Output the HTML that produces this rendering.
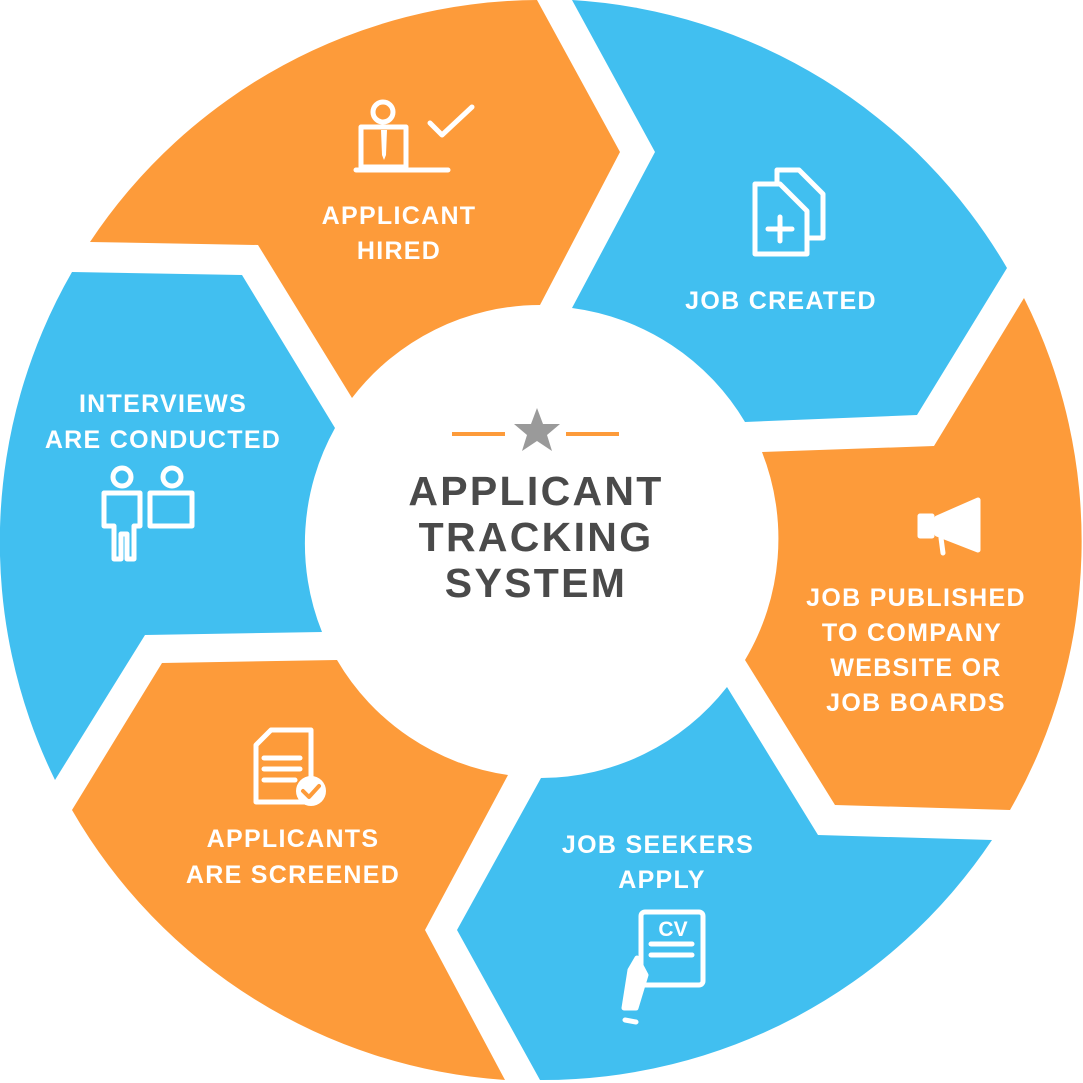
<!DOCTYPE html>
<html><head><meta charset="utf-8"><style>
html,body{margin:0;padding:0;background:#fff}
svg{display:block}
text{font-family:"Liberation Sans",Arial,sans-serif;font-weight:bold}
</style></head><body>
<svg width="1083" height="1083" viewBox="0 0 1083 1083" xmlns="http://www.w3.org/2000/svg">
<g>
<path fill="#FD9B3A" d="M90,242 A541,541 0 0 1 537,0 L620,152 L540,305 A237,237 0 0 0 352,398 L258,245 Z"/>
<path fill="#41BFF0" d="M572,0 A541,541 0 0 1 1007,268 L917,415 L745,422 A237,237 0 0 0 572,308 L655,152 Z"/>
<path fill="#FD9B3A" d="M1024,298 A541,541 0 0 1 1010,810 L835,805 L745,660 A237,237 0 0 0 762,452 L934,446 Z"/>
<path fill="#41BFF0" d="M992,840 A541,541 0 0 1 540,1080 L457,930 L541,778 A237,237 0 0 0 727,687 L818,835 Z"/>
<path fill="#FD9B3A" d="M505,1080 A541,541 0 0 1 72,810 L162,663 L337,660 A237,237 0 0 0 508,775 L425,930 Z"/>
<path fill="#41BFF0" d="M55,780 A541,541 0 0 1 72,272 L242,275 L335,428 A237,237 0 0 0 322,632 L145,635 Z"/>
</g>
<line x1="452" y1="434" x2="505" y2="434" stroke="#FD9B3A" stroke-width="4"/>
<line x1="566" y1="434" x2="619" y2="434" stroke="#FD9B3A" stroke-width="4"/>
<polygon fill="#9a9a9a" points="537,408 543,424 560,424 547,435 552,451 537,441 522,451 527,435 514,424 531,424"/>
<g fill="#4a4a4a" font-size="41" text-anchor="middle" letter-spacing="2.3">
<text x="536" y="505">APPLICANT</text>
<text x="536" y="551">TRACKING</text>
<text x="536" y="597">SYSTEM</text>
</g>
<g fill="#fff" font-size="25" text-anchor="middle" letter-spacing="1.3">
<text x="399" y="224">APPLICANT</text>
<text x="399" y="259">HIRED</text>
<text x="781" y="309">JOB CREATED</text>
<text x="916" y="606">JOB PUBLISHED</text>
<text x="912" y="641">TO COMPANY</text>
<text x="916" y="676">WEBSITE OR</text>
<text x="916" y="711">JOB BOARDS</text>
<text x="658" y="853">JOB SEEKERS</text>
<text x="662" y="888">APPLY</text>
<text x="293" y="847">APPLICANTS</text>
<text x="293" y="883">ARE SCREENED</text>
<text x="163" y="412">INTERVIEWS</text>
<text x="163" y="448">ARE CONDUCTED</text>
</g>
<g fill="none" stroke="#fff" stroke-width="5" stroke-linejoin="round" stroke-linecap="round">
<circle cx="383" cy="112" r="10"/>
<rect x="361" y="127" width="45" height="40"/>
<line x1="356" y1="170" x2="448" y2="170"/>
<polyline points="430,123 442,135 472,107"/>
<path d="M777,170 h22 l24,24 v44 h-46 z"/>
<path d="M755,184 h25 l27,27 v43 h-52 z" fill="#41BFF0"/>
<line x1="780" y1="217" x2="780" y2="241"/><line x1="768" y1="229" x2="792" y2="229"/>
<path d="M937,518 L978,500 V550 L937,534 Z" fill="#fff"/>
<rect x="920" y="516" width="12" height="20" fill="#fff"/>
<line x1="941" y1="538" x2="943" y2="553"/>
<rect x="641" y="912" width="62" height="73" rx="4"/>
<line x1="651" y1="944" x2="692" y2="944"/><line x1="651" y1="955" x2="692" y2="955"/>
<path d="M630,970 L637,958 L646,975 L636,1008 L624,1008 Z" fill="#fff"/>
<line x1="625" y1="1020" x2="636" y2="1022"/>
<path d="M256,745 l15,-15 h40 v72 h-55 z"/>
<line x1="264" y1="758" x2="300" y2="758"/><line x1="264" y1="769" x2="300" y2="769"/><line x1="264" y1="780" x2="295" y2="780"/>
<circle cx="311" cy="791" r="15" fill="#fff" stroke="none"/>
<polyline points="303,791 309,797 319,786" stroke="#FD9B3A" stroke-width="4"/>
<circle cx="122" cy="477" r="9"/><circle cx="172" cy="477" r="9"/>
<path d="M104,493 h36 v33 h-6 v33 h-7 v-25 h-6 v25 h-7 v-33 h-10 z"/>
<rect x="150" y="493" width="42" height="33"/>
</g>
<polygon points="381,130 387,130 386,155 384,160 382,155" fill="#fff"/>
<text x="673" y="936" fill="#fff" font-size="21" text-anchor="middle">CV</text>
</svg>
</body></html>
